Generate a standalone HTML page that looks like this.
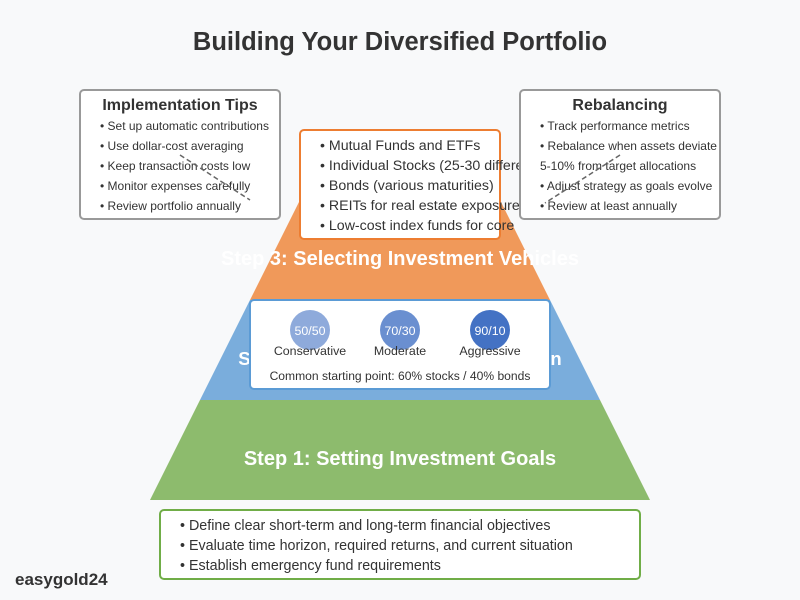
<!DOCTYPE html>
<html><head><meta charset="utf-8"><style>
body{margin:0;background:#f8f9fa;}
svg{display:block;font-family:"Liberation Sans",Arial,sans-serif;}
</style></head><body>
<svg width="800" height="600" viewBox="0 0 800 600">
<rect width="800" height="600" fill="#f8f9fa"/>
<text x="400" y="50" text-anchor="middle" font-size="25.5" font-weight="bold" fill="#333">Building Your Diversified Portfolio</text>

<polygon points="200,400 600,400 650,500 150,500" fill="#8dbb6d"/>
<polygon points="250,300 550,300 600,400 200,400" fill="#7aaddc"/>
<polygon points="300,200 500,200 550,300 250,300" fill="#f0995a"/>

<text x="400" y="265" text-anchor="middle" font-size="20" font-weight="bold" fill="#fff">Step 3: Selecting Investment Vehicles</text>
<text x="400" y="365" text-anchor="middle" font-size="18.5" font-weight="bold" fill="#fff">Step 2: Determining Asset Allocation</text>
<text x="400" y="465" text-anchor="middle" font-size="20" font-weight="bold" fill="#fff">Step 1: Setting Investment Goals</text>

<rect x="300" y="130" width="200" height="109" rx="4" fill="#fff" stroke="#ed7d31" stroke-width="2"/>
<g font-size="14.2" fill="#333">
<text x="320" y="150">• Mutual Funds and ETFs</text>
<text x="320" y="170">• Individual Stocks (25-30 different)</text>
<text x="320" y="190">• Bonds (various maturities)</text>
<text x="320" y="210">• REITs for real estate exposure</text>
<text x="320" y="230">• Low-cost index funds for core</text>
</g>

<rect x="250" y="300" width="300" height="89" rx="4" fill="#fff" stroke="#5b9bd5" stroke-width="2"/>
<circle cx="310" cy="330" r="20" fill="#8eaadb"/>
<circle cx="400" cy="330" r="20" fill="#6a8fd0"/>
<circle cx="490" cy="330" r="20" fill="#4472c4"/>
<g font-size="12.4" text-anchor="middle">
<text x="310" y="335" fill="#fff">50/50</text>
<text x="400" y="335" fill="#fff">70/30</text>
<text x="490" y="335" fill="#fff">90/10</text>
<text x="310" y="355" fill="#333">Conservative</text>
<text x="400" y="355" fill="#333">Moderate</text>
<text x="490" y="355" fill="#333">Aggressive</text>
<text x="400" y="380" fill="#333" font-size="12.1">Common starting point: 60% stocks / 40% bonds</text>
</g>

<rect x="160" y="510" width="480" height="69" rx="4" fill="#fff" stroke="#70ad47" stroke-width="2"/>
<g font-size="14.3" fill="#333">
<text x="180" y="530">• Define clear short-term and long-term financial objectives</text>
<text x="180" y="550">• Evaluate time horizon, required returns, and current situation</text>
<text x="180" y="570">• Establish emergency fund requirements</text>
</g>

<rect x="80" y="90" width="200" height="129" rx="4" fill="#fff" stroke="#999" stroke-width="2"/>
<text x="180" y="110" text-anchor="middle" font-size="16" font-weight="bold" fill="#333">Implementation Tips</text>
<g font-size="12" fill="#333">
<text x="100" y="130">• Set up automatic contributions</text>
<text x="100" y="150">• Use dollar-cost averaging</text>
<text x="100" y="170">• Keep transaction costs low</text>
<text x="100" y="190">• Monitor expenses carefully</text>
<text x="100" y="210">• Review portfolio annually</text>
</g>
<line x1="180" y1="155" x2="250" y2="200" stroke="#666" stroke-width="1.5" stroke-dasharray="5,3"/>

<rect x="520" y="90" width="200" height="129" rx="4" fill="#fff" stroke="#999" stroke-width="2"/>
<text x="620" y="110" text-anchor="middle" font-size="16" font-weight="bold" fill="#333">Rebalancing</text>
<g font-size="12" fill="#333">
<text x="540" y="130">• Track performance metrics</text>
<text x="540" y="150">• Rebalance when assets deviate</text>
<text x="540" y="170">5-10% from target allocations</text>
<text x="540" y="190">• Adjust strategy as goals evolve</text>
<text x="540" y="210">• Review at least annually</text>
</g>
<line x1="620" y1="155" x2="545" y2="203" stroke="#666" stroke-width="1.5" stroke-dasharray="5,3"/>

<text x="15" y="585" font-size="17" font-weight="bold" fill="#333">easygold24</text>
</svg>
</body></html>
